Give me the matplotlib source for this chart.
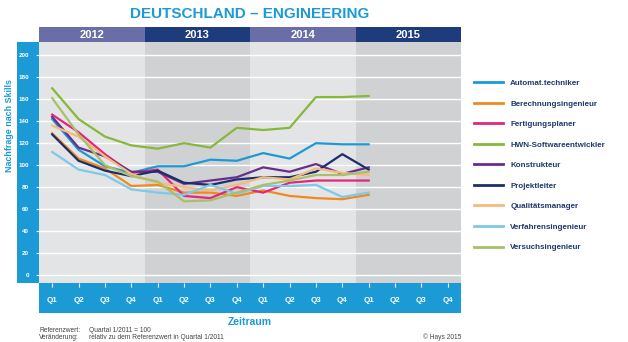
import matplotlib
matplotlib.use("Agg")
import matplotlib.pyplot as plt
from matplotlib.patches import Rectangle

plt.rcParams['font.family'] = ['Liberation Sans', 'DejaVu Sans']

# data: demand index per quarter, 2012 Q1 .. 2015 Q1 (Q1/2011 = 100)
years = ["2012", "2013", "2014", "2015"]
quarter_labels = ["Q1", "Q2", "Q3", "Q4"] * 4
y_ticks = list(range(0, 201, 20))

series_names = ["Automat.techniker", "Berechnungsingenieur", "Fertigungsplaner",
                "HWN-Softwareentwickler", "Konstrukteur", "Projektleiter",
                "Qualitätsmanager", "Verfahrensingenieur", "Versuchsingenieur"]
series_colors = ["#1a9ad6", "#f08a1c", "#e5267a", "#86b83a", "#6a2d8c",
                 "#1b2f6e", "#f6bb7a", "#7ec8e8", "#a9bf6a"]

automat = [142, 114, 99, 93, 99, 99, 105, 104, 111, 106, 120, 119, 119]
berechnung = [129, 106, 97, 81, 82, 75, 75, 72, 77, 72, 70, 69, 73]
fertigung = [146, 130, 110, 93, 96, 72, 70, 80, 75, 84, 86, 86, 86]
hwn = [170, 142, 126, 118, 115, 120, 116, 134, 132, 134, 162, 162, 163]
konstrukteur = [144, 116, 108, 94, 94, 83, 86, 89, 98, 94, 101, 92, 98]
projektleiter = [128, 104, 95, 90, 95, 84, 82, 87, 89, 89, 94, 110, 96]
qualitaet = [136, 126, 108, 92, 84, 80, 77, 82, 89, 87, 97, 93, 91]
verfahren = [112, 96, 91, 78, 75, 73, 82, 74, 81, 81, 82, 71, 75]
versuch = [161, 128, 100, 90, 85, 67, 68, 75, 82, 86, 91, 91, 94]

all_series = [automat, berechnung, fertigung, hwn, konstrukteur,
              projektleiter, qualitaet, verfahren, versuch]

blue = "#1b9ad6"
navy_text = "#1f3a6e"
header_colors = ["#6a6ea6", "#1e3c7c"]
bg_colors = ["#e3e4e6", "#d0d1d3"]

W, H = 628, 342
fig = plt.figure(figsize=(W / 100, H / 100), dpi=100)
fig.patch.set_facecolor("white")

left, right, top, bottom = 39, 461, 41.5, 283
ax = fig.add_axes([left / W, 1 - bottom / H, (right - left) / W, (bottom - top) / H])
ax_h = bottom - top
ax_w = right - left

ax.set_xlim(-0.5, 15.5)
ax.set_ylim(-7.3, 212.6)
for s in ax.spines.values():
    s.set_visible(False)

# alternating year backgrounds + header band
for i, yr in enumerate(years):
    x0 = -0.5 + 4 * i
    ax.axvspan(x0, x0 + 4, color=bg_colors[i % 2], zorder=0, lw=0)
    ax.add_patch(Rectangle((x0, 1.0), 4, 14 / ax_h, transform=ax.get_xaxis_transform(),
                           facecolor=header_colors[i % 2], lw=0, clip_on=False))
    ax.text(x0 + 2, 1 + 7 / ax_h, yr, transform=ax.get_xaxis_transform(),
            ha="center", va="center", color="white", fontsize=8, fontweight="bold")

# blue strips for axes
ax.add_patch(Rectangle((-22 / ax_w, 0), 22 / ax_w, 1, transform=ax.transAxes,
                       facecolor=blue, lw=0, clip_on=False, zorder=-1))
ax.add_patch(Rectangle((0, -30 / ax_h), 1, 30 / ax_h, transform=ax.transAxes,
                       facecolor=blue, lw=0, clip_on=False, zorder=-1))

ax.set_yticks(y_ticks)
ax.set_yticklabels([str(v) for v in y_ticks], fontsize=4.5, fontweight="bold")
ax.set_xticks(range(16))
ax.set_xticklabels(quarter_labels, fontsize=5.8, fontweight="bold")
ax.tick_params(axis="y", colors="white", length=2, width=0.8, pad=5)
ax.tick_params(axis="x", colors="white", length=3, width=0.8, pad=7)
ax.grid(axis="y", color="white", lw=1.0, zorder=1)
ax.set_axisbelow(True)

xs = list(range(13))
for name, col, vals in zip(series_names, series_colors, all_series):
    ax.plot(xs, vals, color=col, lw=1.6, label=name, zorder=3)

leg = fig.legend(loc="upper left", bbox_to_anchor=(474 / W, 1 - 79.5 / H), frameon=False,
                 handlelength=3.6, handletextpad=0.9, labelspacing=1.6,
                 borderpad=0, borderaxespad=0, labelcolor=navy_text,
                 prop={"weight": "bold", "size": 5.8})
for line in leg.get_lines():
    line.set_linewidth(2.0)

fig.text(250 / W, 1 - 14 / H, "DEUTSCHLAND – ENGINEERING", ha="center", va="center",
         color=blue, fontsize=11, fontweight="bold")
fig.text(10 / W, 1 - 126 / H, "Nachfrage nach Skills", ha="center", va="center",
         rotation=90, color=blue, fontsize=6.4, fontweight="bold")
fig.text(250 / W, 1 - 322 / H, "Zeitraum", ha="center", va="center",
         color=blue, fontsize=7.5, fontweight="bold")
fig.text(39 / W, 1 - 330 / H, "Referenzwert:", ha="left", va="center", color="#444444", fontsize=4.8)
fig.text(89 / W, 1 - 330 / H, "Quartal 1/2011 = 100", ha="left", va="center", color="#444444", fontsize=4.8)
fig.text(39 / W, 1 - 337.5 / H, "Veränderung:", ha="left", va="center", color="#444444", fontsize=4.8)
fig.text(89 / W, 1 - 337.5 / H, "relativ zu dem Referenzwert in Quartal 1/2011", ha="left",
         va="center", color="#444444", fontsize=4.8)
fig.text(461 / W, 1 - 337.5 / H, "© Hays 2015", ha="right", va="center", color="#444444", fontsize=4.8)

fig.savefig("out.png", dpi=100)
